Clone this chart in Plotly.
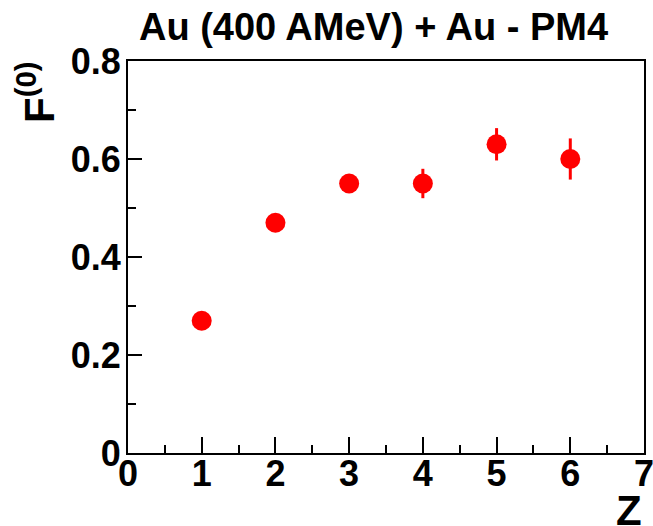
import plotly.graph_objects as go

z_values = [1, 2, 3, 4, 5, 6]
f0_values = [0.27, 0.47, 0.55, 0.55, 0.63, 0.60]
f0_errors = [0.01, 0.012, 0.012, 0.03, 0.033, 0.042]

x_tickvals = [0, 1, 2, 3, 4, 5, 6, 7]
x_ticktext = ["0", "1", "2", "3", "4", "5", "6", "7"]
y_tickvals = [0, 0.2, 0.4, 0.6, 0.8]
y_ticktext = ["0", "0.2", "0.4", "0.6", "0.8"]

title_text = "Au (400 AMeV) + Au - PM4"
xlabel = "Z"
ylabel = "F<sup>(0)</sup>"

FONT = "Liberation Sans, Arial, sans-serif"

fig = go.Figure()
fig.add_trace(go.Scatter(
    x=z_values, y=f0_values,
    mode="markers",
    marker=dict(color="#ff0000", size=20, line=dict(width=0)),
    error_y=dict(type="data", array=f0_errors, color="#ff0000", thickness=3, width=0),
    showlegend=False,
))

axis_common = dict(
    showgrid=False, zeroline=False, showline=True, linecolor="black", linewidth=2,
    mirror=True, ticks="inside", tickcolor="black", tickwidth=2, automargin=False,
    ticklabeloverflow="allow",
    tickfont=dict(family=FONT, size=36, color="black", weight="bold"),
    minor=dict(ticks="inside", ticklen=8, tickcolor="black", tickwidth=2),
)

fig.update_xaxes(
    range=[0, 7], tickvals=x_tickvals, ticktext=x_ticktext, ticklen=16,
    minor_dtick=0.5, ticklabelstandoff=-12, **axis_common,
)
fig.update_yaxes(
    range=[0, 0.8], tickvals=y_tickvals, ticktext=y_ticktext, ticklen=14,
    minor_dtick=0.1, ticklabelstandoff=-2, **axis_common,
)

fig.update_layout(
    width=653, height=526,
    margin=dict(l=128, r=9, t=61, b=73),
    paper_bgcolor="white", plot_bgcolor="white",
    title=dict(text=title_text, xref="container", yref="container",
               x=373.5 / 653, y=1 - 27 / 526, xanchor="center", yanchor="middle",
               font=dict(family=FONT, size=38, color="black", weight="bold")),
    annotations=[
        dict(text=xlabel, xref="paper", yref="paper", x=1, y=-(510 - 453) / 392,
             xanchor="right", yanchor="middle", showarrow=False,
             font=dict(family=FONT, size=42, color="black", weight="bold")),
        dict(text=ylabel, xref="paper", yref="paper", x=-(128 - 36) / 516, y=1 - (92 - 61) / 392,
             xanchor="center", yanchor="middle", textangle=-90, showarrow=False,
             font=dict(family=FONT, size=42, color="black", weight="bold")),
    ],
)

fig.write_html("out.html")
